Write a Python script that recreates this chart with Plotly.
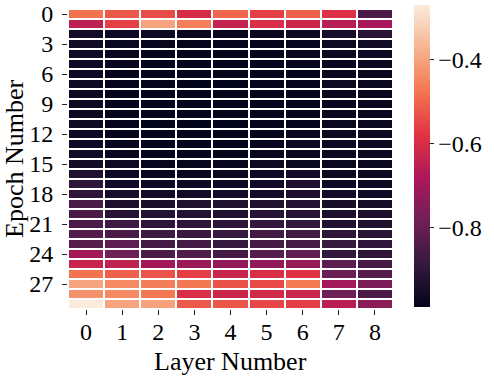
import numpy as np
import plotly.graph_objects as go

# values per layer (column), epochs 0..29 top to bottom
layers = list(range(9))
epochs = list(range(30))

layer_0 = [-0.48, -0.65, -0.955, -0.96, -0.96, -0.965, -0.965, -0.965, -0.97, -0.97,
           -0.97, -0.965, -0.965, -0.965, -0.96, -0.955, -0.93, -0.90, -0.90, -0.85,
           -0.85, -0.845, -0.835, -0.83, -0.70, -0.63, -0.48, -0.40, -0.43, -0.27]
layer_1 = [-0.52, -0.56, -0.965, -0.975, -0.98, -0.98, -0.985, -0.985, -0.985, -0.985,
           -0.985, -0.985, -0.985, -0.98, -0.975, -0.97, -0.965, -0.96, -0.945, -0.935,
           -0.915, -0.875, -0.85, -0.815, -0.79, -0.645, -0.51, -0.445, -0.445, -0.40]
layer_2 = [-0.54, -0.40, -0.965, -0.98, -0.985, -0.985, -0.985, -0.985, -0.985, -0.985,
           -0.99, -0.99, -0.985, -0.985, -0.985, -0.98, -0.975, -0.965, -0.955, -0.94,
           -0.925, -0.90, -0.875, -0.86, -0.85, -0.70, -0.53, -0.46, -0.47, -0.405]
layer_3 = [-0.60, -0.46, -0.98, -0.985, -0.985, -0.985, -0.99, -0.99, -0.99, -0.99,
           -0.99, -0.99, -0.99, -0.985, -0.985, -0.98, -0.975, -0.965, -0.955, -0.93,
           -0.925, -0.90, -0.88, -0.865, -0.84, -0.71, -0.56, -0.47, -0.595, -0.52]
layer_4 = [-0.50, -0.64, -0.98, -0.985, -0.985, -0.985, -0.99, -0.99, -0.99, -0.99,
           -0.99, -0.99, -0.99, -0.985, -0.985, -0.98, -0.97, -0.965, -0.955, -0.93,
           -0.93, -0.90, -0.885, -0.885, -0.86, -0.725, -0.63, -0.53, -0.625, -0.525]
layer_5 = [-0.56, -0.595, -0.975, -0.985, -0.985, -0.985, -0.985, -0.985, -0.99, -0.99,
           -0.99, -0.985, -0.985, -0.98, -0.98, -0.97, -0.965, -0.96, -0.955, -0.93,
           -0.915, -0.89, -0.865, -0.86, -0.83, -0.725, -0.595, -0.545, -0.61, -0.55]
layer_6 = [-0.51, -0.625, -0.97, -0.98, -0.98, -0.98, -0.985, -0.985, -0.985, -0.985,
           -0.985, -0.985, -0.98, -0.97, -0.975, -0.975, -0.955, -0.935, -0.94, -0.925,
           -0.915, -0.895, -0.87, -0.86, -0.81, -0.72, -0.58, -0.465, -0.625, -0.56]
layer_7 = [-0.59, -0.66, -0.945, -0.97, -0.97, -0.975, -0.975, -0.97, -0.975, -0.975,
           -0.975, -0.975, -0.97, -0.965, -0.97, -0.975, -0.97, -0.965, -0.955, -0.945,
           -0.94, -0.93, -0.90, -0.885, -0.895, -0.82, -0.795, -0.70, -0.79, -0.66]
layer_8 = [-0.85, -0.69, -0.91, -0.96, -0.965, -0.97, -0.975, -0.975, -0.98, -0.975,
           -0.975, -0.975, -0.97, -0.97, -0.97, -0.975, -0.97, -0.965, -0.96, -0.95,
           -0.935, -0.93, -0.91, -0.895, -0.90, -0.855, -0.835, -0.765, -0.85, -0.74]

cbar_ticks = [-0.8, -0.6, -0.4]
cbar_labels = ["\u22120.8", "\u22120.6", "\u22120.4"]

# seaborn "rocket"
rocket = [
    [0.0, "#03051A"],
    [1 / 7, "#35193e"],
    [2 / 7, "#701f57"],
    [3 / 7, "#ad1759"],
    [4 / 7, "#e13342"],
    [5 / 7, "#f37651"],
    [6 / 7, "#f6b48f"],
    [1.0, "#FAEBDD"],
]

z = np.column_stack(
    [layer_0, layer_1, layer_2, layer_3, layer_4, layer_5, layer_6, layer_7, layer_8]
)

FONT = "Liberation Serif"
W, H = 494, 376
L, R, T, B = 68, 101, 9, 67
tickfont = dict(family=FONT, size=24, color="black")

fig = go.Figure(
    go.Heatmap(
        z=z,
        x=layers,
        y=epochs,
        colorscale=rocket,
        xgap=2,
        ygap=2,
        colorbar=dict(
            thickness=16,
            lenmode="pixels",
            len=302,
            x=(414 - L) / (W - L - R),
            xanchor="left",
            xpad=0,
            y=1 - (156 - T) / (H - T - B),
            yanchor="middle",
            ypad=0,
            outlinewidth=0,
            ticks="outside",
            ticklen=4,
            tickcolor="#222",
            tickvals=cbar_ticks,
            ticktext=cbar_labels,
            tickfont=tickfont,
        ),
    )
)

fig.update_xaxes(
    tickvals=layers,
    ticks="outside",
    ticklen=5,
    tickcolor="#222",
    showgrid=False,
    zeroline=False,
    tickfont=tickfont,
    ticklabelstandoff=-4,
)
fig.update_yaxes(
    autorange="reversed",
    tickvals=epochs[::3],
    ticks="outside",
    ticklen=5,
    tickcolor="#222",
    showgrid=False,
    zeroline=False,
    tickfont=tickfont,
    ticklabeloverflow="allow",
    ticklabelstandoff=4,
)

fig.add_annotation(
    text="Layer Number", xref="paper", yref="paper", x=0.5, y=0,
    yanchor="middle", yshift=-52, showarrow=False,
    font=dict(family=FONT, size=26, color="black"),
)
fig.add_annotation(
    text="Epoch Number", xref="paper", yref="paper", x=0, y=0.5,
    xanchor="center", xshift=-54, textangle=-90, showarrow=False,
    font=dict(family=FONT, size=26, color="black"),
)

fig.update_layout(
    width=W,
    height=H,
    margin=dict(l=L, r=R, t=T, b=B, autoexpand=False),
    plot_bgcolor="white",
    paper_bgcolor="white",
)

fig.write_html(
    "out.html",
    config={"displayModeBar": False},
    post_script="document.body.style.margin = '0';",
)
